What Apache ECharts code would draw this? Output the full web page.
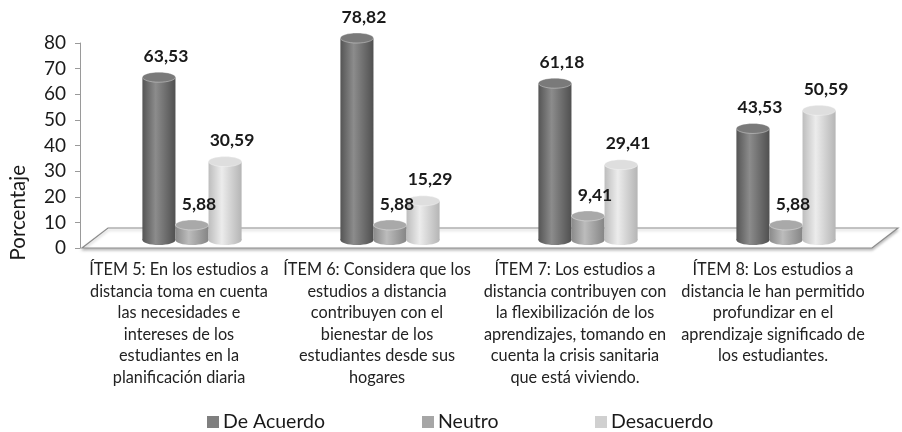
<!DOCTYPE html>
<html><head><meta charset="utf-8">
<script src="https://cdn.jsdelivr.net/npm/echarts@6/dist/echarts.min.js"></script>
<style>html,body{margin:0;padding:0;background:#fff}#c{width:902px;height:432px}</style>
</head><body><div id="c"></div>
<script>
const categories = [
  'ÍTEM 5: En los estudios a\ndistancia toma en cuenta\nlas necesidades e\nintereses de los\nestudiantes en la\nplanificación diaria',
  'ÍTEM 6: Considera que los\nestudios a distancia\ncontribuyen con el\nbienestar de los\nestudiantes desde sus\nhogares',
  'ÍTEM 7: Los estudios a\ndistancia contribuyen con\nla flexibilización de los\naprendizajes, tomando en\ncuenta la crisis sanitaria\nque está viviendo.',
  'ÍTEM 8: Los estudios a\ndistancia le han permitido\nprofundizar en el\naprendizaje significado de\nlos estudiantes.'
];
const seriesNames = ['De Acuerdo', 'Neutro', 'Desacuerdo'];
const deAcuerdo = [63.53, 78.82, 61.18, 43.53];
const neutro = [5.88, 5.88, 9.41, 5.88];
const desacuerdo = [30.59, 15.29, 29.41, 50.59];
const yTicks = [0, 10, 20, 30, 40, 50, 60, 70, 80];

const seriesValues = [deAcuerdo, neutro, desacuerdo];
const palettes = [
  {legend:'#7f7f7f', l:'#555555', m:'#8c8c8c', r:'#505050', top:'#7a7a7a'},
  {legend:'#a6a6a6', l:'#8a8a8a', m:'#bcbcbc', r:'#858585', top:'#a9a9a9'},
  {legend:'#d0d0d0', l:'#bdbdbd', m:'#ececec', r:'#b5b5b5', top:'#dedede'}
];
const legendLefts = [202, 417, 590];
const DX = 13, DY = 8;
const fmt = v => v.toFixed(2).replace('.', ',');

function geom(sIdx, api) {
  const cat = api.value(0), val = api.value(1);
  const band = api.size([1, 0])[0];
  const base = api.coord([cat, 0]);
  const top = api.coord([cat, val]);
  const w = band * 0.167;
  return {val: val, w: w, cx: base[0] + DX + (sIdx - 1) * w, by: base[1] - DY, ty: top[1] - DY, rx: w / 2, ry: 5};
}

function cylRender(sIdx) {
  const pal = palettes[sIdx];
  return function (params, api) {
    const g = geom(sIdx, api);
    const grad = new echarts.graphic.LinearGradient(0, 0, 1, 0, [
      {offset: 0, color: pal.l}, {offset: 0.4, color: pal.m}, {offset: 1, color: pal.r}
    ]);
    return {
      type: 'group',
      children: [
        {type: 'ellipse', shape: {cx: g.cx, cy: g.by, rx: g.rx, ry: g.ry}, style: {fill: grad}},
        {type: 'rect', shape: {x: g.cx - g.rx, y: g.ty, width: g.w, height: g.by - g.ty}, style: {fill: grad}},
        {type: 'ellipse', shape: {cx: g.cx, cy: g.ty, rx: g.rx, ry: g.ry}, style: {fill: pal.top, stroke: 'rgba(255,255,255,0.35)', lineWidth: 1}}
      ]
    };
  };
}

function labelRender(sIdx) {
  return function (params, api) {
    const g = geom(sIdx, api);
    return {type: 'text', x: g.cx + 7, y: g.ty - g.ry - 7,
      style: {text: fmt(g.val), fill: '#1a1a1a', font: 'bold 17.5px Lato, "Open Sans", sans-serif', align: 'center', verticalAlign: 'bottom'}};
  };
}

const series = [{
  type: 'custom', name: '_floor', silent: true, z: 1,
  data: [[0, 0]],
  renderItem: function (params, api) {
    const cs = params.coordSys;
    const y0 = cs.y + cs.height;
    const d = 2 * DX, h = 2.5 * DY;
    return {
      type: 'polygon',
      shape: {points: [[cs.x + 2, y0], [cs.x + cs.width, y0], [cs.x + cs.width + d, y0 - h], [cs.x + 2 + d, y0 - h]]},
      style: {fill: '#ffffff', stroke: '#8c8c8c', lineWidth: 1.2, shadowColor: 'rgba(0,0,0,0.25)', shadowBlur: 3, shadowOffsetY: 2}
    };
  }
}];
seriesNames.forEach((n, i) => {
  series.push({
    type: 'custom', name: n, z: 2,
    itemStyle: {color: palettes[i].legend},
    encode: {x: 0, y: 1},
    data: seriesValues[i].map((v, k) => [k, v]),
    renderItem: cylRender(i)
  });
});
seriesNames.forEach((n, i) => {
  series.push({
    type: 'custom', name: '_lbl' + i, z: 3, silent: true,
    encode: {x: 0, y: 1},
    data: seriesValues[i].map((v, k) => [k, v]),
    renderItem: labelRender(i)
  });
});

const legends = seriesNames.map((n, i) => ({
  data: [n], left: legendLefts[i], top: 407, itemWidth: 12, itemHeight: 12, icon: 'rect',
  textStyle: {fontSize: 19.5, color: '#1a1a1a', padding: [0, 0, 0, -1]}
}));

const chart = echarts.init(document.getElementById('c'));
chart.setOption({
  animation: false,
  textStyle: {fontFamily: 'Lato, "Open Sans", sans-serif'},
  grid: {left: 80, right: 30, top: 43, bottom: 184, containLabel: false},
  xAxis: {
    type: 'category', data: categories,
    axisLine: {show: false}, axisTick: {show: false},
    axisLabel: {interval: 0, margin: 11, fontSize: 16.3, lineHeight: 21.6, color: '#222', align: 'center', verticalAlign: 'top'}
  },
  yAxis: {
    type: 'value', min: yTicks[0], max: yTicks[yTicks.length - 1], interval: 10,
    splitLine: {show: false},
    axisLine: {show: true, lineStyle: {color: '#9a9a9a', width: 1}},
    axisTick: {show: true, length: 5, lineStyle: {color: '#9a9a9a'}},
    axisLabel: {fontSize: 19, color: '#1a1a1a', margin: 14}
  },
  legend: legends,
  graphic: [{
    type: 'text', left: 8, top: 165, rotation: Math.PI / 2,
    style: {text: 'Porcentaje', font: '20.5px Lato, "Open Sans", sans-serif', fill: '#1a1a1a'}
  }],
  series: series
});
</script></body></html>
